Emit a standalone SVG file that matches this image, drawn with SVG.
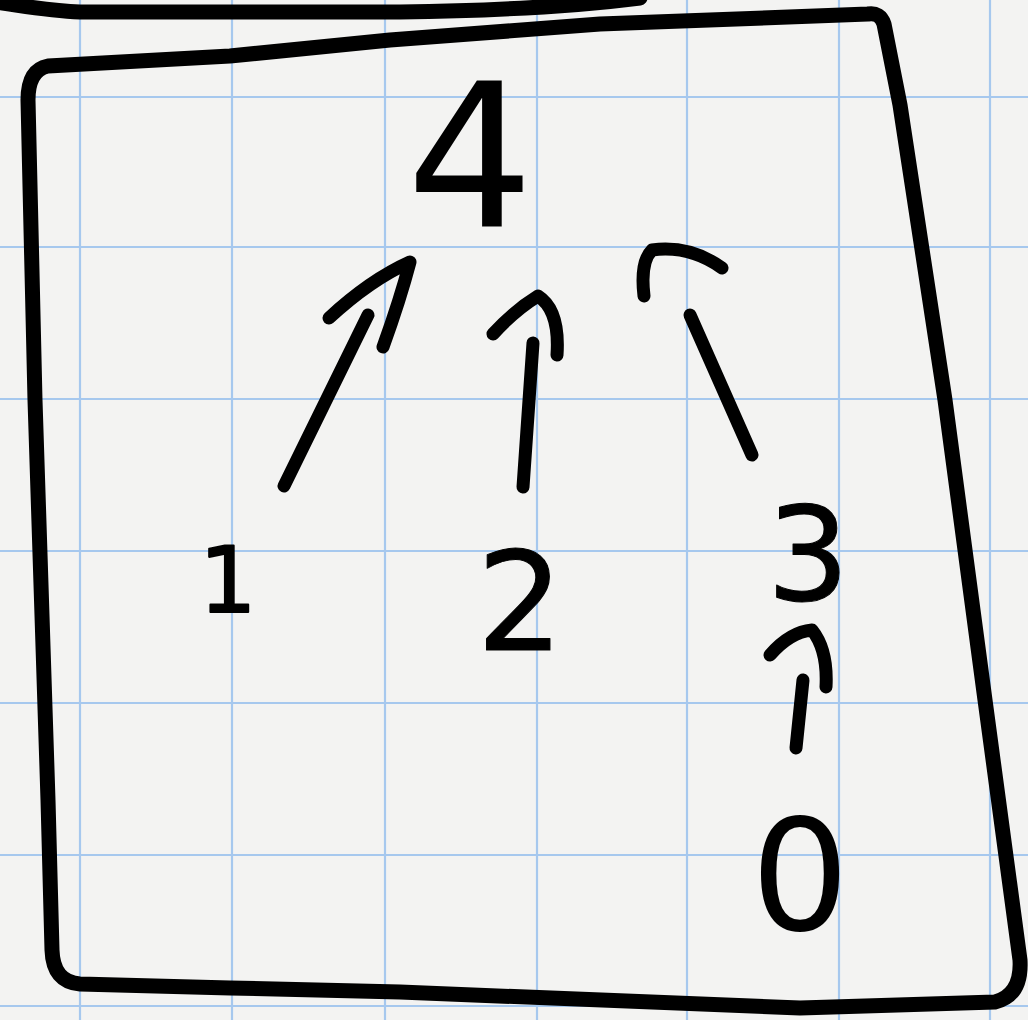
<svg xmlns="http://www.w3.org/2000/svg" width="1028" height="1020" viewBox="0 0 1028 1020">
<style>
.grid line{stroke:#a6c8ee;stroke-width:2.2}
.ink{fill:none;stroke:#000;stroke-width:13;stroke-linecap:round;stroke-linejoin:round}
.frame{stroke-width:15}
.lbl{font-family:"DejaVu Sans",sans-serif;fill:#000;stroke:#000;stroke-linejoin:round;text-anchor:middle}
</style>
<rect width="1028" height="1020" fill="#f3f3f2"/>
<g class="grid">
<line x1="80" y1="0" x2="80" y2="1020"/>
<line x1="232" y1="0" x2="232" y2="1020"/>
<line x1="385" y1="0" x2="385" y2="1020"/>
<line x1="537" y1="0" x2="537" y2="1020"/>
<line x1="687" y1="0" x2="687" y2="1020"/>
<line x1="839" y1="0" x2="839" y2="1020"/>
<line x1="990" y1="0" x2="990" y2="1020"/>
<line x1="0" y1="97" x2="1028" y2="97"/>
<line x1="0" y1="247" x2="1028" y2="247"/>
<line x1="0" y1="399" x2="1028" y2="399"/>
<line x1="0" y1="551" x2="1028" y2="551"/>
<line x1="0" y1="703" x2="1028" y2="703"/>
<line x1="0" y1="855" x2="1028" y2="855"/>
<line x1="0" y1="1006" x2="1028" y2="1006"/>
</g>
<g id="frame">
<path class="ink frame" d="M-5,2 C30,7 50,11 80,12 L400,12 C480,11 560,8 640,-2"/>
<path class="ink frame" d="M48,66 L230,56 L390,40 L600,24 L868,14 Q880,12 884,24 L900,105 L945,400 L985,700 L1020,960 Q1022,995 995,1002 L800,1008 L400,992 L230,988 L80,984 Q53,982 52,950 L48,800 L35,400 L28,100 Q28,70 48,66 Z"/>
</g>
<g id="node-4"><text class="lbl" x="470" y="226" font-size="200" stroke-width="0">4</text></g>
<g id="node-1"><text class="lbl" x="228" y="612" font-size="90" stroke-width="2">1</text></g>
<g id="node-2"><text class="lbl" x="520" y="650" font-size="137" stroke-width="1">2</text></g>
<g id="node-3"><text class="lbl" x="808" y="600" font-size="130" stroke-width="1">3</text></g>
<g id="node-0"><text class="lbl" x="800" y="930" font-size="155" stroke-width="0">0</text></g>
<g id="connectors">
<path class="ink" d="M284,486 L368,315"/>
<path class="ink" d="M329,318 Q370,280 410,262 Q400,300 383,347"/>
<path class="ink" d="M523,487 L533,343"/>
<path class="ink" d="M493,334 Q515,310 538,296 Q560,310 557,355"/>
<path class="ink" d="M752,455 L690,315"/>
<path class="ink" d="M644,296 Q640,262 652,250 Q690,245 722,268"/>
<path class="ink" d="M796,748 L803,680"/>
<path class="ink" d="M770,655 Q790,632 812,630 Q828,650 826,687"/>
</g>
</svg>
